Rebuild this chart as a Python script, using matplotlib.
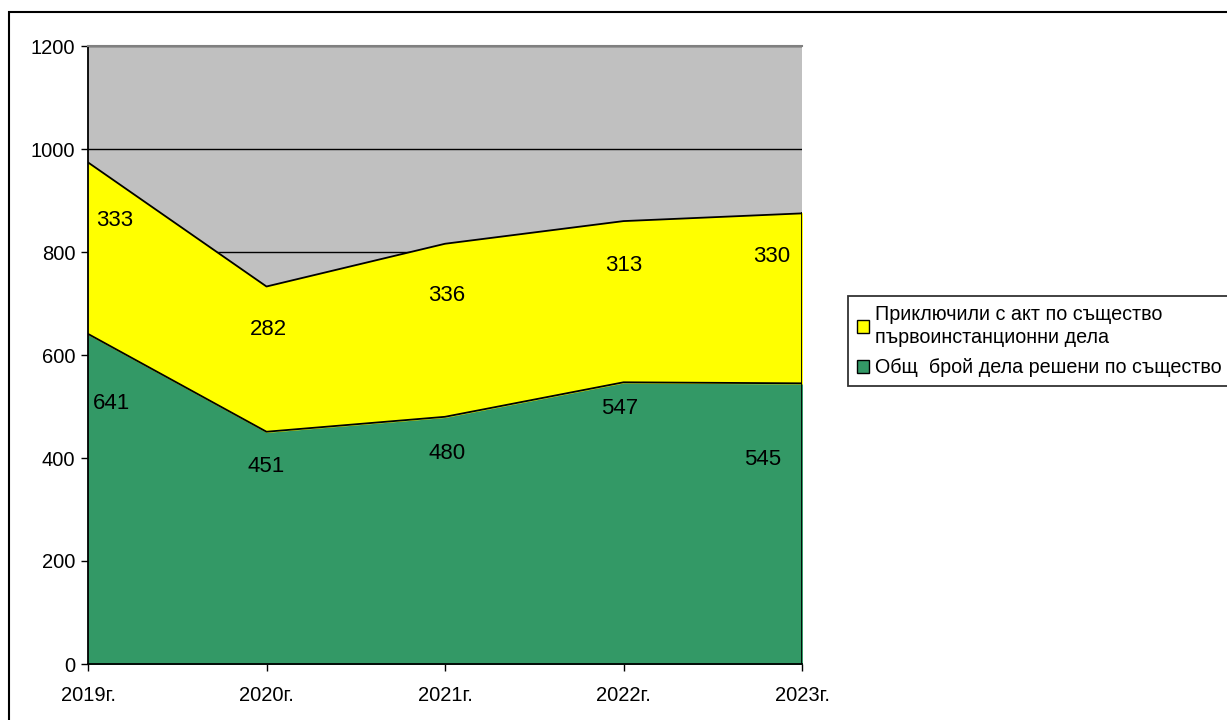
import numpy as np
import matplotlib.pyplot as plt
from matplotlib.patches import Rectangle, Patch

plt.rcParams['font.family'] = ['Liberation Sans', 'DejaVu Sans']

years = ['2019г.', '2020г.', '2021г.', '2022г.', '2023г.']
total_solved = [641, 451, 480, 547, 545]
first_instance = [333, 282, 336, 313, 330]
names = ['Приключили с акт по същество\nпървоинстанционни дела',
         'Общ  брой дела решени по същество']

# label positions (value coords) and x offsets
lab_y_green = [505, 383, 408, 497, 398]
lab_y_yellow = [862, 649, 715, 773, 792]
lab_dx_green = [0.13, 0.0, 0.01, -0.02, -0.22]
lab_dx_yellow = [0.15, 0.01, 0.01, 0.0, -0.17]

x = np.arange(len(years))
top = np.array(total_solved) + np.array(first_instance)

fig = plt.figure(figsize=(12.27, 7.2), dpi=100)
ax = fig.add_axes([88/1227, 1-664/720, (802-88)/1227, (664-46)/720])
ax.set_facecolor('#C0C0C0')

ax.fill_between(x, 0, total_solved, color='#339966', zorder=2)
ax.fill_between(x, total_solved, top, color='#FFFF00', zorder=2)
ax.plot(x, total_solved, color='black', lw=1.3, zorder=3)
ax.plot(x, top, color='black', lw=1.3, zorder=3)
ax.plot([4, 4], [0, top[-1]], color='black', lw=1.3, zorder=3)

ax.set_xlim(0, 4)
ax.set_ylim(0, 1200)
ax.set_yticks(range(0, 1201, 200))
ax.set_xticks(x)
ax.set_xticklabels(years)
ax.yaxis.grid(True, color='black', lw=1)
ax.set_axisbelow(True)
ax.tick_params(axis='both', labelsize=14.5, length=5, width=1, direction='out', color='black')
ax.tick_params(axis='x', pad=11)
ax.tick_params(axis='y', pad=4)
for s in ['left', 'bottom']:
    ax.spines[s].set_color('black')
    ax.spines[s].set_linewidth(1.3)
ax.spines['right'].set_visible(False)
ax.spines['top'].set_color('#808080')
ax.spines['top'].set_linewidth(1.5)

for i in range(len(years)):
    ax.text(x[i] + lab_dx_green[i], lab_y_green[i], str(total_solved[i]),
            fontsize=16, ha='center', va='center', zorder=5)
    ax.text(x[i] + lab_dx_yellow[i], lab_y_yellow[i], str(first_instance[i]),
            fontsize=16, ha='center', va='center', zorder=5)

handles = [Patch(facecolor='#FFFF00', edgecolor='black', lw=1),
           Patch(facecolor='#339966', edgecolor='black', lw=1)]
leg = fig.legend(handles, names, loc='upper left',
                 bbox_to_anchor=(848/1227, 1-296/720), fontsize=14.2,
                 frameon=True, fancybox=False, edgecolor='black',
                 handlelength=0.6, handleheight=0.6, handletextpad=0.3,
                 borderpad=0.45, labelspacing=0.55, borderaxespad=0)
leg.get_frame().set_linewidth(1.3)
for t in leg.get_texts():
    t.set_linespacing(1.3)

fig.patches.append(Rectangle((9/1227, -0.1), 1.2, 1-12/720+0.1,
                             transform=fig.transFigure, fill=False,
                             edgecolor='black', lw=1.5))

fig.savefig('out.png', dpi=100)
